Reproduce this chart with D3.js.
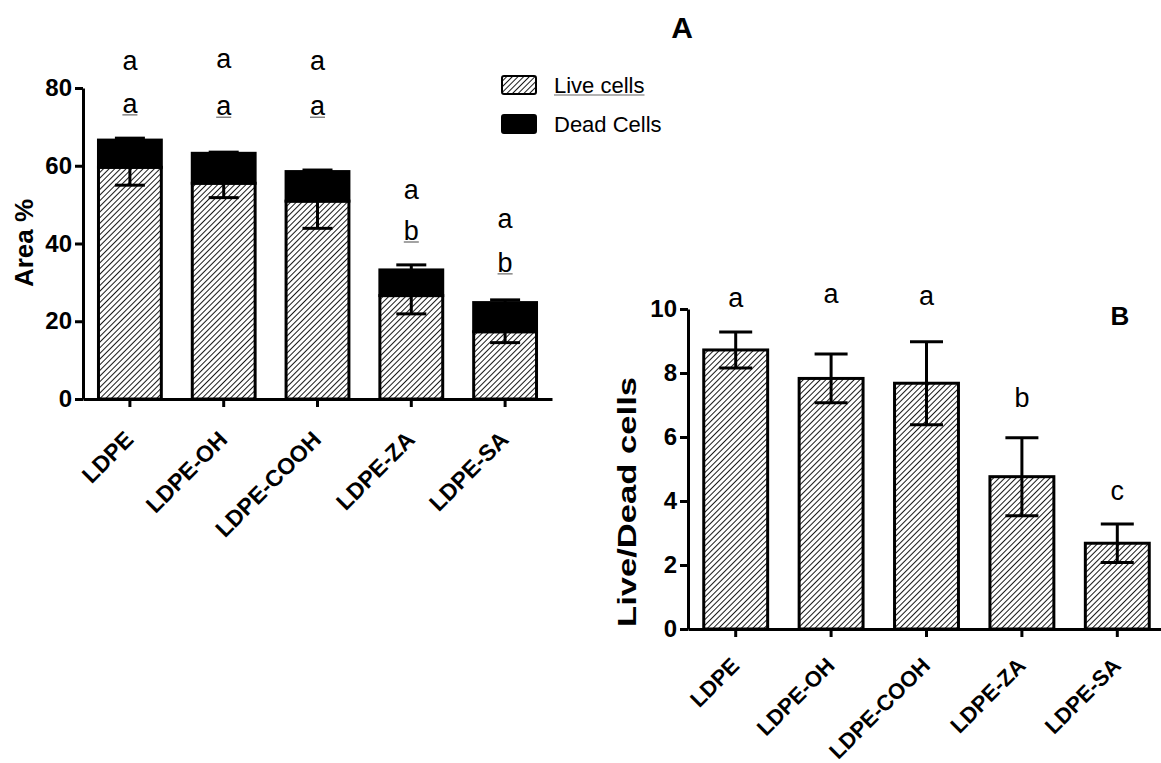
<!DOCTYPE html>
<html>
<head>
<meta charset="utf-8">
<script src="https://cdn.jsdelivr.net/npm/d3@7"></script>
<style>
body { margin: 0; background: #fff; }
text { font-family: "Liberation Sans", Arial, sans-serif; }
</style>
</head>
<body>
<div id="chart"></div>
<script>
// data
var groups = ["LDPE", "LDPE-OH", "LDPE-COOH", "LDPE-ZA", "LDPE-SA"];
var liveArea = [59.6, 55.5, 50.9, 26.6, 17.3];
var liveErr  = [4.6, 3.7, 7.0, 4.7, 2.8];
var deadArea = [7.0, 7.7, 7.6, 6.6, 7.5];
var deadErr  = [0.5, 0.3, 0.4, 1.3, 0.7];
var ratio    = [8.72, 7.83, 7.68, 4.76, 2.68];
var ratioErr = [0.56, 0.76, 1.30, 1.22, 0.60];
var lettersTop = ["a", "a", "a", "a", "a"];
var lettersLow = ["a", "a", "a", "b", "b"];
var lettersB   = ["a", "a", "a", "b", "c"];
// letter baselines, in axis units
var letterTopAt = [84.6, 85.1, 84.6, 51.4, 44.0];
var letterLowAt = [73.6, 73.0, 73.0, 40.9, 32.7];
var letterBAt   = [10.06, 10.19, 10.12, 6.94, 4.03];
var ticksA = [0, 20, 40, 60, 80];
var ticksB = [0, 2, 4, 6, 8, 10];

var svg = d3.select("#chart").append("svg")
  .attr("width", 1161).attr("height", 763);
svg.append("rect").attr("width", 1161).attr("height", 763).attr("fill", "#fff");

var pat = svg.append("defs").append("pattern")
  .attr("id", "hatch")
  .attr("patternUnits", "userSpaceOnUse")
  .attr("width", 4).attr("height", 4)
  .attr("patternTransform", "rotate(45)");
pat.append("rect").attr("width", 4).attr("height", 4).attr("fill", "#fff");
pat.append("line").attr("x1", 0).attr("y1", 0).attr("x2", 0).attr("y2", 4)
  .attr("stroke", "#000").attr("stroke-width", 1.8);

function styleAxis(g) {
  g.selectAll(".domain").attr("stroke", "#000").attr("stroke-width", 3);
  g.selectAll(".tick line").attr("stroke", "#000").attr("stroke-width", 3);
}

// ---------- panel A ----------
var xA = d3.scaleBand().domain(groups).range([83, 552]).paddingInner(0.33).paddingOuter(0.165);
var yA = d3.scaleLinear().domain([0, 80]).range([399, 88]);
var capA = 30;

var barsA = svg.append("g");
groups.forEach(function(d, i) {
  var x0 = xA(d), w = xA.bandwidth(), cx = x0 + w / 2;
  var tot = liveArea[i] + deadArea[i];
  barsA.append("rect").attr("x", x0).attr("y", yA(liveArea[i]))
    .attr("width", w).attr("height", yA(0) - yA(liveArea[i]))
    .attr("fill", "url(#hatch)").attr("stroke", "#000").attr("stroke-width", 3);
  barsA.append("rect").attr("x", x0).attr("y", yA(tot))
    .attr("width", w).attr("height", yA(liveArea[i]) - yA(tot))
    .attr("fill", "#000").attr("stroke", "#000").attr("stroke-width", 3);
  // live error (downwards)
  barsA.append("line").attr("x1", cx).attr("x2", cx)
    .attr("y1", yA(liveArea[i])).attr("y2", yA(liveArea[i] - liveErr[i]))
    .attr("stroke", "#000").attr("stroke-width", 3);
  barsA.append("line").attr("x1", cx - capA / 2).attr("x2", cx + capA / 2)
    .attr("y1", yA(liveArea[i] - liveErr[i])).attr("y2", yA(liveArea[i] - liveErr[i]))
    .attr("stroke", "#000").attr("stroke-width", 3);
  // dead error (upwards)
  barsA.append("line").attr("x1", cx).attr("x2", cx)
    .attr("y1", yA(tot)).attr("y2", yA(tot + deadErr[i]))
    .attr("stroke", "#000").attr("stroke-width", 3);
  barsA.append("line").attr("x1", cx - capA / 2).attr("x2", cx + capA / 2)
    .attr("y1", yA(tot + deadErr[i])).attr("y2", yA(tot + deadErr[i]))
    .attr("stroke", "#000").attr("stroke-width", 3);
  // letters
  svg.append("text").attr("x", cx).attr("y", yA(letterTopAt[i]))
    .attr("text-anchor", "middle").style("font-size", "27px").text(lettersTop[i]);
  var yLow = yA(letterLowAt[i]);
  var t = svg.append("text").attr("x", cx).attr("y", yLow)
    .attr("text-anchor", "middle").style("font-size", "27px").text(lettersLow[i]);
  var tw = t.node().getComputedTextLength();
  svg.append("line").attr("x1", cx - tw / 2).attr("x2", cx + tw / 2)
    .attr("y1", yLow + 2).attr("y2", yLow + 2)
    .attr("stroke", "#666").attr("stroke-width", 1.2);
});

var yAxA = svg.append("g").attr("transform", "translate(83,0)")
  .call(d3.axisLeft(yA).tickValues(ticksA).tickSize(8).tickSizeOuter(0).tickPadding(3));
yAxA.selectAll("text").style("font-size", "24px").style("font-weight", "bold").attr("fill", "#000");
styleAxis(yAxA);

var xAxA = svg.append("g").attr("transform", "translate(0,399)")
  .call(d3.axisBottom(xA).tickSize(8).tickSizeOuter(0));
xAxA.selectAll("text").attr("x", 0).attr("y", 0).attr("dy", 0)
  .attr("transform", "translate(5,42) rotate(-45)")
  .style("text-anchor", "end").style("font-size", "23px").style("font-weight", "bold").attr("fill", "#000");
styleAxis(xAxA);

svg.append("text").attr("transform", "translate(24,243) rotate(-90)")
  .attr("text-anchor", "middle").attr("dominant-baseline", "central")
  .style("font-size", "26px").style("font-weight", "bold").text("Area %");

svg.append("text").attr("x", 682).attr("y", 38).attr("text-anchor", "middle")
  .style("font-size", "30px").style("font-weight", "bold").text("A");

// legend
var legend = [{label: "Live cells", fill: "url(#hatch)", y: 76, under: true},
              {label: "Dead Cells", fill: "#000", y: 115, under: false}];
legend.forEach(function(l) {
  svg.append("rect").attr("x", 502).attr("y", l.y).attr("width", 34).attr("height", 18)
    .attr("rx", 2).attr("fill", l.fill).attr("stroke", "#000").attr("stroke-width", 2);
  var lt = svg.append("text").attr("x", 554).attr("y", l.y + 17)
    .style("font-size", "22px").text(l.label);
  if (l.under) {
    var lw = lt.node().getComputedTextLength();
    svg.append("line").attr("x1", 554).attr("x2", 554 + lw)
      .attr("y1", l.y + 19).attr("y2", l.y + 19)
      .attr("stroke", "#666").attr("stroke-width", 1.2);
  }
});

// ---------- panel B ----------
var xB = d3.scaleBand().domain(groups).range([688, 1165]).paddingInner(0.33).paddingOuter(0.165);
var yB = d3.scaleLinear().domain([0, 10]).range([629, 309]);
var capB = 33;

groups.forEach(function(d, i) {
  var x0 = xB(d), w = xB.bandwidth(), cx = x0 + w / 2;
  svg.append("rect").attr("x", x0).attr("y", yB(ratio[i]))
    .attr("width", w).attr("height", yB(0) - yB(ratio[i]))
    .attr("fill", "url(#hatch)").attr("stroke", "#000").attr("stroke-width", 3);
  var lo = ratio[i] - ratioErr[i], hi = ratio[i] + ratioErr[i];
  svg.append("line").attr("x1", cx).attr("x2", cx).attr("y1", yB(lo)).attr("y2", yB(hi))
    .attr("stroke", "#000").attr("stroke-width", 3);
  [lo, hi].forEach(function(v) {
    svg.append("line").attr("x1", cx - capB / 2).attr("x2", cx + capB / 2)
      .attr("y1", yB(v)).attr("y2", yB(v))
      .attr("stroke", "#000").attr("stroke-width", 3);
  });
  svg.append("text").attr("x", cx).attr("y", yB(letterBAt[i]))
    .attr("text-anchor", "middle").style("font-size", "27px").text(lettersB[i]);
});

var yAxB = svg.append("g").attr("transform", "translate(688,0)")
  .call(d3.axisLeft(yB).tickValues(ticksB).tickSize(8).tickSizeOuter(0).tickPadding(3));
yAxB.selectAll("text").style("font-size", "24px").style("font-weight", "bold").attr("fill", "#000");
styleAxis(yAxB);

var xAxB = svg.append("g").attr("transform", "translate(0,629)")
  .call(d3.axisBottom(xB).tickSize(8).tickSizeOuter(0));
xAxB.selectAll("text").attr("x", 0).attr("y", 0).attr("dy", 0)
  .attr("transform", "translate(5,38) rotate(-45)")
  .style("text-anchor", "end").style("font-size", "22px").style("font-weight", "bold").attr("fill", "#000");
styleAxis(xAxB);

svg.append("text").attr("transform", "translate(627,502) rotate(-90)")
  .attr("text-anchor", "middle").attr("dominant-baseline", "central")
  .attr("textLength", 250).attr("lengthAdjust", "spacingAndGlyphs")
  .style("font-size", "25px").style("font-weight", "bold").text("Live/Dead cells");

svg.append("text").attr("x", 1120).attr("y", 325).attr("text-anchor", "middle")
  .style("font-size", "26px").style("font-weight", "bold").text("B");
</script>
</body>
</html>
